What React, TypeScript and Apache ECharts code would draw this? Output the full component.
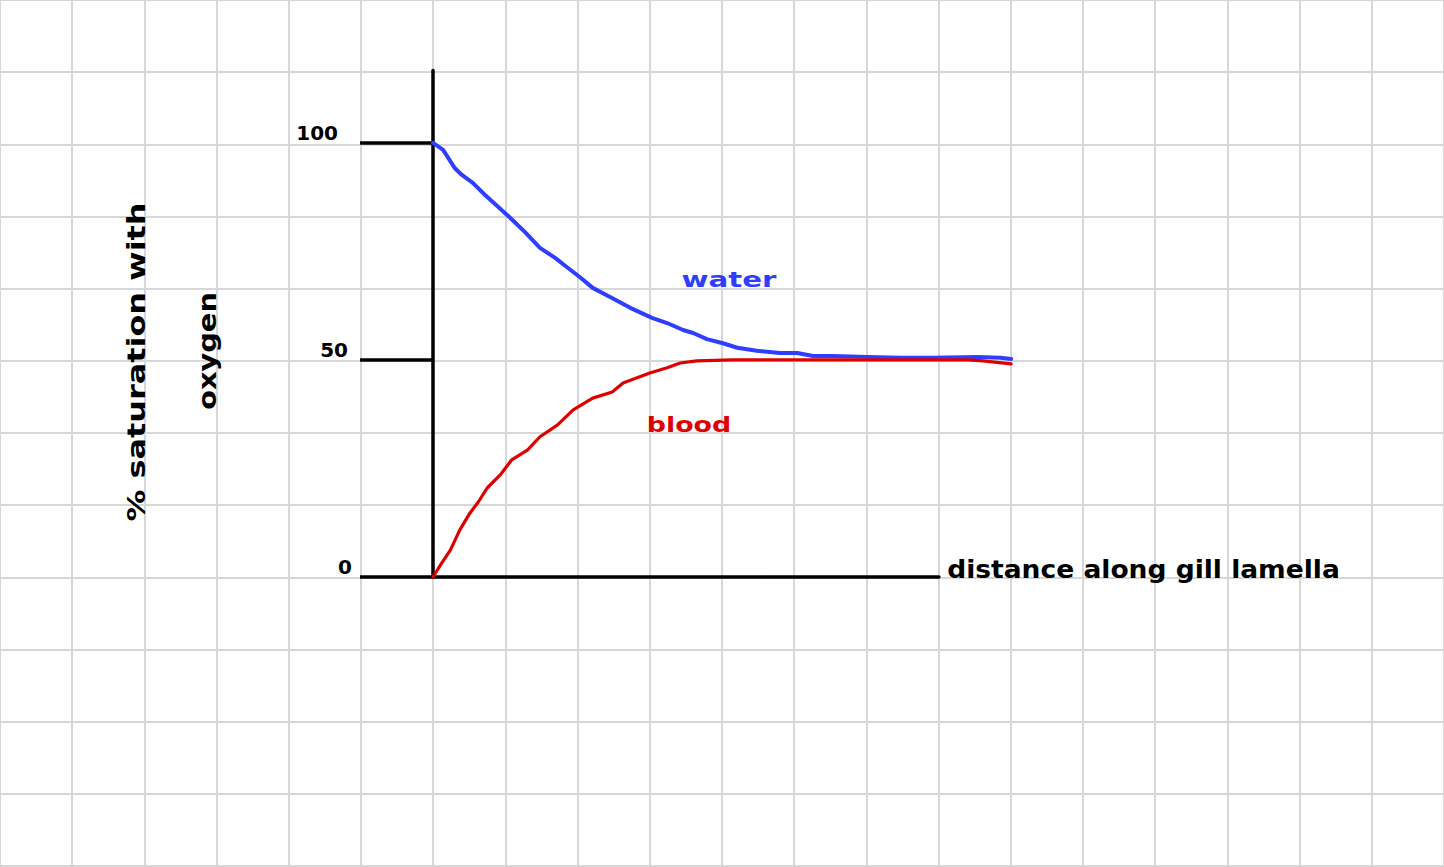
import React, { useEffect, useRef } from "react";
import * as echarts from "echarts";

// distance along gill lamella (in grid-cell units) and % saturation
const waterX = [0, 0.14, 0.3, 0.4, 0.55, 0.72, 0.9, 1.07, 1.27, 1.48, 1.69, 1.85, 2.03, 2.21, 2.45, 2.73, 3.03, 3.24, 3.46, 3.6, 3.79, 4.0, 4.21, 4.48, 4.8, 5.04, 5.26, 5.53, 6.01, 6.46, 6.92, 7.53, 7.85, 8.0];
const waterY = [100, 98.4, 94.2, 92.6, 90.8, 88.0, 85.3, 82.7, 79.5, 75.8, 73.5, 71.4, 69.1, 66.6, 64.5, 62.0, 59.7, 58.5, 56.9, 56.2, 54.8, 53.9, 52.8, 52.1, 51.6, 51.6, 50.9, 50.9, 50.7, 50.5, 50.5, 50.7, 50.5, 50.2];
const bloodX = [0, 0.12, 0.24, 0.37, 0.51, 0.62, 0.75, 0.93, 1.09, 1.31, 1.48, 1.72, 1.94, 2.21, 2.48, 2.63, 3.0, 3.24, 3.42, 3.65, 4.15, 5.08, 6.46, 7.39, 7.61, 8.0];
const bloodY = [0, 3.2, 6.2, 10.8, 14.7, 17.1, 20.5, 23.5, 27.0, 29.3, 32.3, 35.0, 38.5, 41.2, 42.6, 44.7, 47.0, 48.2, 49.3, 49.8, 50.0, 50.0, 50.0, 50.0, 49.8, 49.1];
const yTicks = [0, 50, 100];

const xAxisName = "distance along gill lamella";
const yAxisName1 = "% saturation with";
const yAxisName2 = "oxygen";
const waterLabel = "water";
const bloodLabel = "blood";

const FONT = "DejaVu Sans";
const CELL = 72.27;

export default function App() {
  const ref = useRef<HTMLDivElement>(null);
  useEffect(() => {
    if (!ref.current) return;
    const chart = echarts.init(ref.current, null, { renderer: "svg" });
    const zip = (xs: number[], ys: number[]) => xs.map((x, i) => [x, ys[i]]);
    const txt = (
      text: string,
      x: number,
      y: number,
      fill: string,
      fontSize: number,
      scaleX: number,
      rotation = 0
    ) => ({
      type: "text",
      x,
      y,
      rotation,
      scaleX,
      z: 10,
      style: {
        text,
        fill,
        fontSize,
        fontFamily: FONT,
        fontWeight: "bold",
        align: "center",
        verticalAlign: "middle",
      },
    });
    const hidden = {
      axisLine: { show: false },
      axisTick: { show: false },
      axisLabel: { show: false },
      splitLine: { show: false },
    };
    const tickRich = (padRight: number) => ({
      fontFamily: FONT,
      fontWeight: "bold",
      fontSize: 20,
      color: "#000",
      padding: [0, padRight, 0, 0],
    });
    chart.setOption({
      animation: false,
      backgroundColor: "#ffffff",
      grid: [
        { left: 0, top: -1, width: 1444, height: 867, containLabel: false },
        { left: 433, top: 70.5, width: CELL * 8, height: 506.5, containLabel: false },
        { left: 433, top: 70.5, width: CELL * 7, height: 506.5, containLabel: false },
      ],
      xAxis: [
        {
          gridIndex: 0,
          type: "value",
          min: -6,
          max: 14,
          interval: 1,
          z: 0,
          ...hidden,
          splitLine: { show: true, lineStyle: { color: "#d7d7d7", width: 2 } },
        },
        {
          gridIndex: 1,
          type: "value",
          min: 0,
          max: 8,
          z: 3,
          ...hidden,
        },
        {
          gridIndex: 2,
          type: "value",
          min: 0,
          max: 7,
          z: 3,
          ...hidden,
          axisLine: { show: true, lineStyle: { color: "#000", width: 3.5 } },
        },
      ],
      yAxis: [
        {
          gridIndex: 0,
          type: "value",
          min: -4,
          max: 8,
          interval: 1,
          z: 0,
          ...hidden,
          splitLine: { show: true, lineStyle: { color: "#d7d7d7", width: 2 } },
        },
        {
          gridIndex: 1,
          type: "value",
          min: 0,
          max: 116.67,
          z: 3,
          axisLine: { show: true, lineStyle: { color: "#000", width: 3.5 } },
          axisTick: {
            show: true,
            customValues: yTicks,
            length: 73,
            inside: false,
            lineStyle: { color: "#000", width: 3.5 },
          },
          axisLabel: {
            show: true,
            customValues: yTicks,
            margin: 81,
            color: "#000",
            fontFamily: FONT,
            fontWeight: "bold",
            fontSize: 20,
            verticalAlign: "bottom",
            formatter: (v: number) =>
              v === 100 ? `{h|${v}}` : v === 50 ? `{f|${v}}` : `{z|${v}}`,
            rich: { h: tickRich(14), f: tickRich(4), z: tickRich(0) },
          },
          splitLine: { show: false },
        },
        {
          gridIndex: 2,
          type: "value",
          min: 0,
          max: 116.67,
          show: false,
          ...hidden,
        },
      ],
      series: [
        {
          type: "line",
          xAxisIndex: 1,
          yAxisIndex: 1,
          data: zip(waterX, waterY),
          symbol: "none",
          smooth: false,
          clip: false,
          z: 4,
          lineStyle: { color: "#2f3dff", width: 4, join: "round", cap: "round" },
        },
        {
          type: "line",
          xAxisIndex: 1,
          yAxisIndex: 1,
          data: zip(bloodX, bloodY),
          symbol: "none",
          smooth: false,
          clip: false,
          z: 5,
          lineStyle: { color: "#dd0000", width: 3.2, join: "round", cap: "round" },
        },
      ],
      graphic: [
        txt(xAxisName, 1143.5, 570, "#000", 24, 1.105),
        txt(yAxisName1, 137, 362, "#000", 24, 1.33, Math.PI / 2),
        txt(yAxisName2, 207, 351, "#000", 24, 1.2, Math.PI / 2),
        txt(waterLabel, 729, 279, "#2f3dff", 22, 1.33),
        txt(bloodLabel, 689, 424, "#dd0000", 22, 1.22),
      ],
    });
    return () => chart.dispose();
  }, []);
  return (
    <div
      ref={ref}
      style={{ position: "absolute", left: 0, top: 0, width: 1444, height: 867, background: "#fff" }}
    />
  );
}
